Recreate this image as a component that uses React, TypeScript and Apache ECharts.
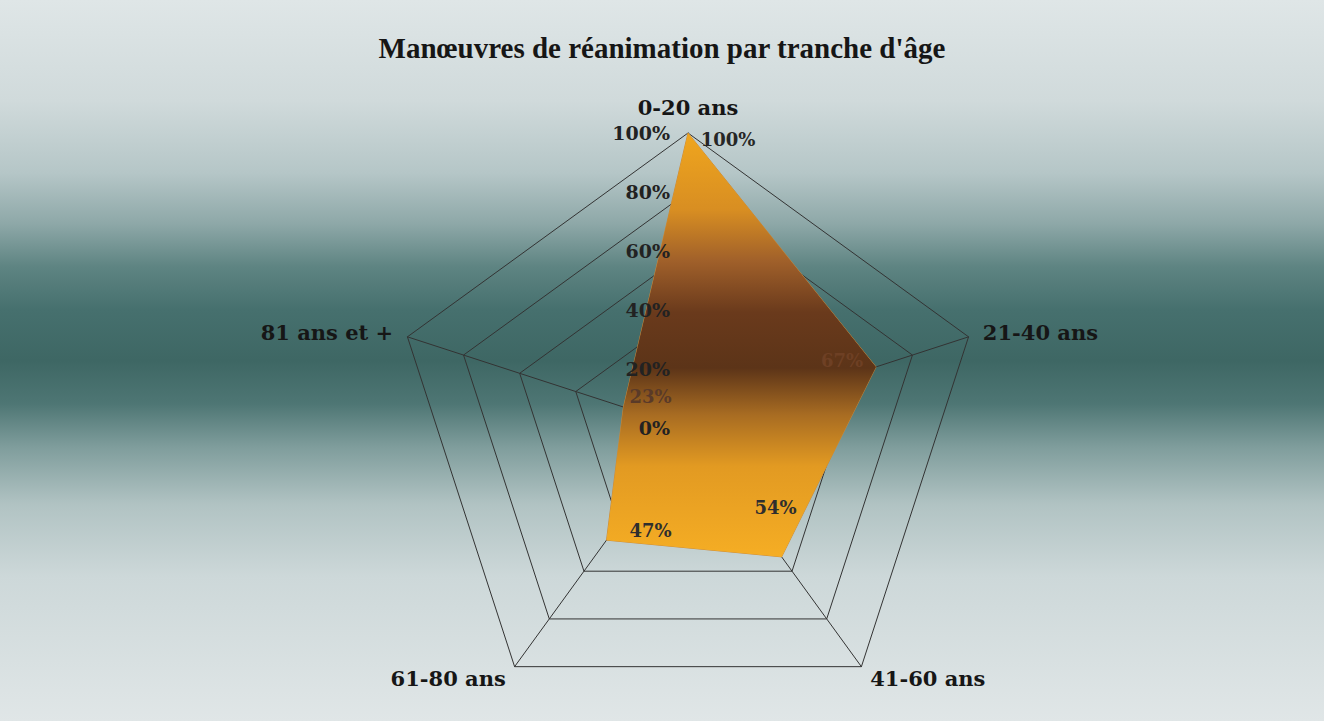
import React, { useEffect, useRef } from "react";
import * as echarts from "echarts";

const TITLE = "Manœuvres de réanimation par tranche d'âge";
const categories = ["0-20 ans", "21-40 ans", "41-60 ans", "61-80 ans", "81 ans et +"];
const values = [100, 67, 54, 47, 23];
const tickValues = [0, 20, 40, 60, 80, 100];
// label placement tweaks (offsets from each vertex), in category order
const labelOffsets = [
  [40, 6],
  [-34, -6],
  [-6, -49],
  [44, -10],
  [27, -11],
];
const labelColors = ["#262626", "#6e4024", "#2e2e2e", "#2e2e2e", "#5a3a28"];

// ECharts radar lays out indicators counter-clockwise; reference runs clockwise.
const order = [0, 4, 3, 2, 1];

export default function App() {
  const ref = useRef<HTMLDivElement>(null);
  useEffect(() => {
    if (!ref.current) return;
    const chart = echarts.init(ref.current, undefined, { renderer: "svg" });
    const cx = 688;
    const cy = 428;
    const R = 295;
    const orderedValues = order.map((i) => values[i]);
    const labelItems = order.map((ci) => ({
      value: orderedValues,
      symbol: "circle",
      symbolSize: 1,
      itemStyle: { color: "transparent" },
      lineStyle: { width: 0, opacity: 0 },
      areaStyle: { opacity: 0 },
      label: {
        show: true,
        position: "inside",
        offset: labelOffsets[ci],
        color: labelColors[ci],
        fontFamily: "DejaVu Serif",
        fontWeight: "bold",
        fontSize: 18,
        formatter: (p: any) => (p.value === values[ci] ? `${values[ci]}%` : ""),
      },
    }));
    chart.setOption({
      animation: false,
      backgroundColor: {
        type: "linear",
        x: 0,
        y: 0,
        x2: 0,
        y2: 1,
        colorStops: [
          { offset: 0, color: "#dfe6e7" },
          { offset: 0.14, color: "#d0dadb" },
          { offset: 0.24, color: "#b5c6c7" },
          { offset: 0.31, color: "#8ea8a8" },
          { offset: 0.37, color: "#5e8482" },
          { offset: 0.43, color: "#46706e" },
          { offset: 0.5, color: "#3e6764" },
          { offset: 0.56, color: "#4e7674" },
          { offset: 0.62, color: "#7f9d9c" },
          { offset: 0.7, color: "#b1c3c3" },
          { offset: 0.8, color: "#cdd8d9" },
          { offset: 1, color: "#e0e6e7" },
        ],
      },
      title: {
        text: TITLE,
        left: "center",
        top: 28,
        textStyle: {
          fontFamily: "Liberation Serif",
          fontWeight: "bold",
          fontSize: 29,
          color: "#161616",
        },
      },
      radar: {
        center: [cx, cy],
        radius: R,
        startAngle: 90,
        shape: "polygon",
        splitNumber: 5,
        indicator: order.map((i) => ({ name: categories[i], min: 0, max: 100 })),
        nameGap: 15,
        axisName: {
          color: "#161616",
          fontFamily: "DejaVu Serif",
          fontWeight: "bold",
          fontSize: 21,
        },
        axisLine: { lineStyle: { color: "#333", width: 1 } },
        splitLine: { lineStyle: { color: "#333", width: 1 } },
        splitArea: { show: false },
        axisTick: { show: false },
        axisLabel: { show: false },
      },
      polar: { center: [cx, cy], radius: R },
      angleAxis: { show: false, startAngle: 90, min: 0, max: 360 },
      radiusAxis: {
        min: 0,
        max: 100,
        interval: 20,
        axisLine: { show: false },
        axisTick: { show: false },
        splitLine: { show: false },
        axisLabel: {
          show: true,
          margin: 18,
          color: "#222",
          fontFamily: "DejaVu Serif",
          fontWeight: "bold",
          fontSize: 19,
          formatter: (v: number) => (tickValues.includes(v) ? `${v}%` : ""),
        },
        z: 5,
      },
      series: [
        {
          type: "radar",
          silent: true,
          z: 2,
          symbol: "none",
          data: [
            {
              value: orderedValues,
              symbol: "none",
              lineStyle: { color: "#c98a3c", width: 1 },
              areaStyle: {
                opacity: 1,
                color: new echarts.graphic.LinearGradient(
                  0,
                  133,
                  0,
                  560,
                  [
                    { offset: 0, color: "#f0a61e" },
                    { offset: 0.18, color: "#d88e22" },
                    { offset: 0.3, color: "#a0602a" },
                    { offset: 0.42, color: "#6a3a1c" },
                    { offset: 0.55, color: "#5c3418" },
                    { offset: 0.66, color: "#a86c22" },
                    { offset: 0.78, color: "#e29a22" },
                    { offset: 1, color: "#f6ae24" },
                  ],
                  true
                ),
              },
            },
          ],
        },
        {
          type: "radar",
          silent: true,
          z: 4,
          data: labelItems,
        },
      ],
    });
    return () => chart.dispose();
  }, []);
  return (
    <div
      ref={ref}
      style={{ position: "absolute", left: 0, top: 0, width: 1324, height: 721 }}
    />
  );
}
